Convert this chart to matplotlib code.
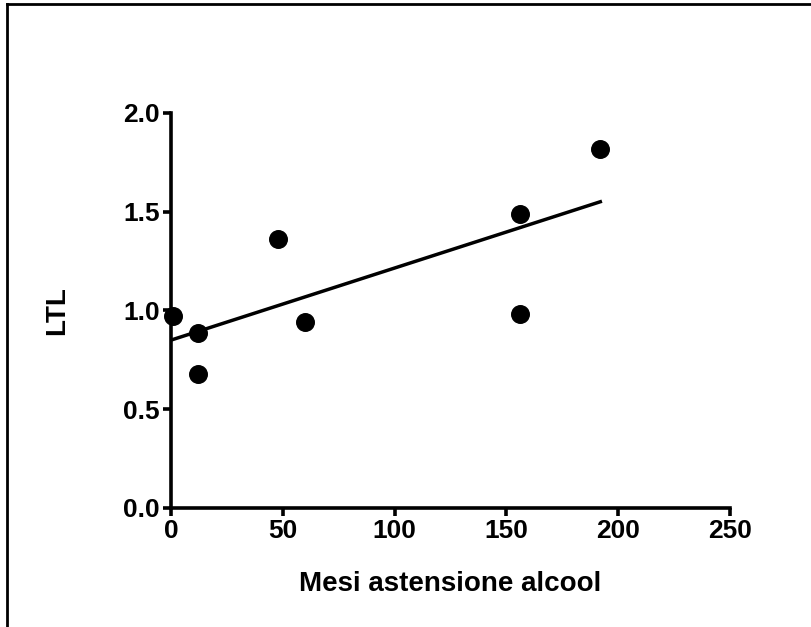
import numpy as np
import matplotlib
matplotlib.use("Agg")
import matplotlib.pyplot as plt
from matplotlib.lines import Line2D

# Data
mesi = [1, 12, 12, 48, 60, 156, 156, 192]
ltl = [0.97, 0.885, 0.68, 1.36, 0.94, 1.49, 0.98, 1.82]
x_ticks = [0, 50, 100, 150, 200, 250]
y_ticks = [0.0, 0.5, 1.0, 1.5, 2.0]

plt.rcParams["font.family"] = ["Liberation Sans", "DejaVu Sans"]
plt.rcParams["font.weight"] = "bold"

fig = plt.figure(figsize=(8.11, 6.27), dpi=100)
ax = fig.add_axes([0.2109, 0.1898, 0.6892, 0.6300])

# Linear regression line
slope, intercept = np.polyfit(mesi, ltl, 1)
xfit = np.array([min(mesi) - 1, max(mesi)])
ax.plot(xfit, intercept + slope * xfit, color="black", lw=2.5, zorder=2)

ax.scatter(mesi, ltl, s=160, color="black", zorder=3, clip_on=False)

ax.set_xlim(0, 250)
ax.set_ylim(0, 2.0)
ax.set_xticks(x_ticks)
ax.set_yticks(y_ticks)
ax.set_xticklabels([str(v) for v in x_ticks])
ax.set_yticklabels([f"{v:.1f}" for v in y_ticks])

for side in ["top", "right"]:
    ax.spines[side].set_visible(False)
for side in ["left", "bottom"]:
    ax.spines[side].set_linewidth(2.6)
ax.tick_params(direction="out", length=6, width=2.6, labelsize=19, pad=2)
for lab in ax.get_xticklabels() + ax.get_yticklabels():
    lab.set_fontweight("bold")

ax.set_xlabel("Mesi astensione alcool", fontsize=20, fontweight="bold", labelpad=20)
ax.set_ylabel("LTL", fontsize=20, fontweight="bold", labelpad=38)

# Border lines of the original picture (top and left only)
fig.add_artist(Line2D([0.0085, 1.0], [0.9944, 0.9944], transform=fig.transFigure, color="black", lw=2))
fig.add_artist(Line2D([0.0085, 0.0085], [0.0, 0.9944], transform=fig.transFigure, color="black", lw=2))

fig.savefig("out.png", dpi=100)
